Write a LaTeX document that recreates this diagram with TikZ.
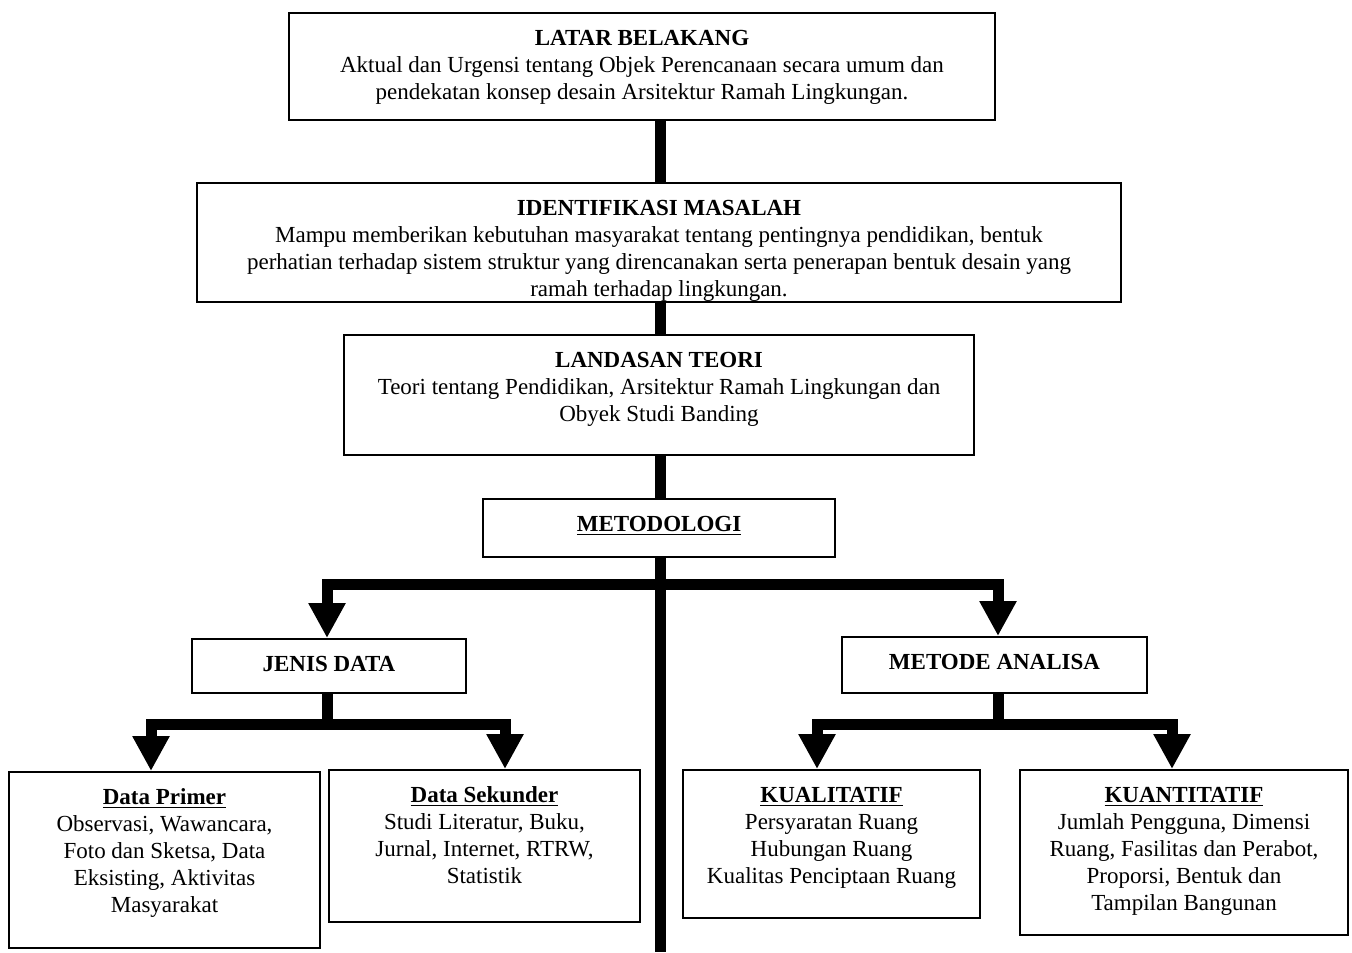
\documentclass[tikz,border=0pt]{standalone}
\usepackage{fontspec}
\setmainfont{Liberation Serif}
\usetikzlibrary{arrows.meta}
\tikzset{
  kotak/.style 2 args={draw,line width=1pt,inner sep=0pt,
    execute at begin node={\begin{minipage}[c][#2][t]{#1}\centering\rule{0pt}{16.3pt}},
    execute at end node={\end{minipage}}},
  batang/.style={line width=5.5pt},
  panah/.style={batang,-{Triangle[width=17.5pt,length=17.5pt]}},
}
\newcommand{\judul}[1]{\textbf{#1}\\}
\newcommand{\judulgaris}[1]{\textbf{\underline{#1}}\\}

\begin{document}
\begin{tikzpicture}[x=0.5pt,y=-0.5pt,font=\fontsize{11.5}{13.5}\selectfont]
\useasboundingbox (0,0) rectangle (1352,952);
% --- alur utama
\node[kotak={353pt}{53.5pt}] (latar) at (642,66.5) {\judul{LATAR BELAKANG}Aktual dan Urgensi tentang Objek Perencanaan secara umum dan\\pendekatan konsep desain Arsitektur Ramah Lingkungan.};
\node[kotak={462pt}{59.5pt}] (masalah) at (659,242.5) {\judul{IDENTIFIKASI MASALAH}Mampu memberikan kebutuhan masyarakat tentang pentingnya pendidikan, bentuk\\perhatian terhadap sistem struktur yang direncanakan serta penerapan bentuk desain yang\\ramah terhadap lingkungan.};
\node[kotak={315pt}{60pt}] (teori) at (659,395) {\judul{LANDASAN TEORI}Teori tentang Pendidikan, Arsitektur Ramah Lingkungan dan\\Obyek Studi Banding};
\node[kotak={176pt}{29pt}] (metode) at (659,528) {\textbf{\underline{METODOLOGI}}};
% --- cabang
\node[kotak={137pt}{27pt}] (jenis) at (329,666) {\textbf{JENIS DATA}};
\node[kotak={152.5pt}{28pt}] (analisa) at (994.5,665) {\textbf{METODE ANALISA}};
\node[kotak={155.5pt}{88pt}] (primer) at (164.5,860) {\judulgaris{Data Primer}Observasi, Wawancara,\\Foto dan Sketsa, Data\\Eksisting, Aktivitas\\Masyarakat};
\node[kotak={155.5pt}{76pt}] (sekunder) at (484.5,846) {\judulgaris{Data Sekunder}Studi Literatur, Buku,\\Jurnal, Internet, RTRW,\\Statistik};
\node[kotak={148.5pt}{74pt}] (kuali) at (831.5,844) {\judulgaris{KUALITATIF}Persyaratan Ruang\\Hubungan Ruang\\Kualitas Penciptaan Ruang};
\node[kotak={164pt}{82.5pt}] (kuanti) at (1184,852.5) {\judulgaris{KUANTITATIF}Jumlah Pengguna, Dimensi\\Ruang, Fasilitas dan Perabot,\\Proporsi, Bentuk dan\\Tampilan Bangunan};
% --- garis penghubung
\coordinate (sumbu) at (660,0);
\coordinate (ujung) at (660,952);
\draw[batang] (latar.south -| sumbu) -- (masalah.north -| sumbu);
\draw[batang] (masalah.south -| sumbu) -- (teori.north -| sumbu);
\draw[batang] (teori.south -| sumbu) -- (metode.north -| sumbu);
\draw[batang] (metode.south -| sumbu) -- (ujung);
\draw[panah] (metode.south -| sumbu) -- ++(0,26) -| ([xshift=-1pt]jenis.north);
\draw[panah] (metode.south -| sumbu) -- ++(0,26) -| ([xshift=1.75pt]analisa.north);
\draw[panah] ([xshift=-1pt]jenis.south) -- ++(0,30) -| ([xshift=-6.75pt]primer.north);
\draw[panah] ([xshift=-1pt]jenis.south) -- ++(0,30) -| ([xshift=10.25pt]sekunder.north);
\draw[panah] ([xshift=1.75pt]analisa.south) -- ++(0,30) -| ([xshift=-7.25pt]kuali.north);
\draw[panah] ([xshift=1.75pt]analisa.south) -- ++(0,30) -| ([xshift=-6pt]kuanti.north);
\end{tikzpicture}
\end{document}
